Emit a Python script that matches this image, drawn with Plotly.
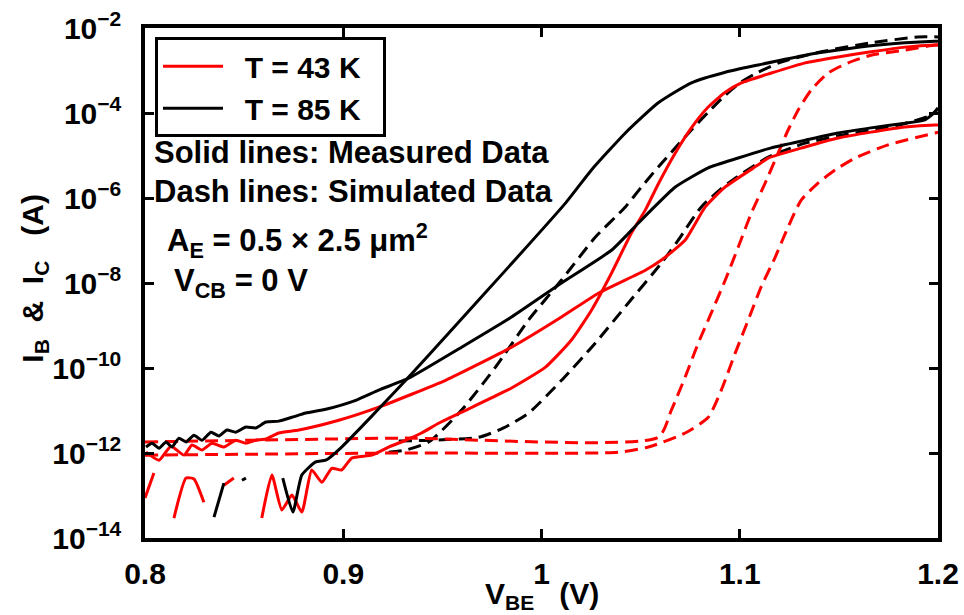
import plotly.graph_objects as go

# ---------------- data (V_BE in volts, currents as log10(I/A)) ----------------
# T = 85 K, measured collector current (gaps = unmeasurable noise floor)
v_ic85_meas = [0.8348, 0.8398, None, 0.8489, 0.8509, None, 0.8695, 0.8746, 0.8791, 0.8861,
               0.8912, 0.8992, 0.9315, 1.0121, 1.0252, 1.0423, 1.0589, 1.0756, 1.0927,
               1.1093, 1.1330, 1.1496, 1.1662, 1.1834, 1.1985, 1.2000]
log_ic85_meas = [-13.51, -12.71, None, -12.64, -12.59, None, -12.59, -13.39, -12.52, -12.21,
                 -12.17, -11.86, -10.29, -6.12, -5.34, -4.47, -3.76, -3.29, -3.04,
                 -2.87, -2.64, -2.52, -2.42, -2.35, -2.31, -2.31]

# T = 85 K, measured base current
v_ib85_meas = [0.8005, 0.8035, 0.8071, 0.8106, 0.8136, 0.8171, 0.8207, 0.8247, 0.8287, 0.8333,
               0.8373, 0.8413, 0.8458, 0.8509, 0.8559, 0.8610, 0.8675, 0.8741, 0.8811, 0.8912,
               0.9063, 0.9179, 0.9330, 0.9597, 0.9849, 1.0101, 1.0353, 1.0489, 1.0554, 1.0675,
               1.0841, 1.0992, 1.1159, 1.1330, 1.1496, 1.1662, 1.1834, 1.1934, 1.1985, 1.2000]
log_ib85_meas = [-11.86, -11.77, -11.89, -11.74, -11.86, -11.65, -11.74, -11.58, -11.70, -11.51,
                 -11.60, -11.46, -11.51, -11.39, -11.41, -11.27, -11.25, -11.16, -11.06, -10.97,
                 -10.76, -10.52, -10.24, -9.51, -8.80, -8.00, -7.23, -6.59, -6.28, -5.74,
                 -5.29, -5.06, -4.82, -4.64, -4.47, -4.35, -4.24, -4.16, -3.98, -3.88]

# T = 43 K, measured collector current
v_ic43_meas = [0.8000, 0.8045, None, 0.8146, 0.8207, 0.8247, 0.8297, None, 0.8398, 0.8448, None,
               0.8589, 0.8640, 0.8690, 0.8741, 0.8791, 0.8841, 0.8892, 0.8942, 0.8992, 0.9043,
               0.9144, 0.9229, 0.9315, 0.9395, 0.9481, 0.9597, 0.9849, 1.0020, 1.0151, 1.0252,
               1.0353, 1.0453, 1.0524, 1.0589, 1.0675, 1.0756, 1.0841, 1.0927, 1.1008, 1.1159,
               1.1330, 1.1496, 1.1662, 1.1834, 1.1985, 1.2000]
log_ic43_meas = [-13.06, -12.47, None, -13.53, -12.59, -12.61, -13.16, None, -12.76, -12.59, None,
                 -13.53, -12.52, -13.34, -12.99, -13.39, -12.40, -12.69, -12.36, -12.40, -12.12,
                 -12.05, -11.86, -11.70, -11.53, -11.30, -11.04, -10.47, -9.98, -9.34, -8.64,
                 -7.77, -6.83, -6.28, -5.67, -4.94, -4.35, -3.86, -3.51, -3.29, -3.06,
                 -2.82, -2.68, -2.56, -2.45, -2.40, -2.40]

# T = 43 K, measured base current
v_ib43_meas = [0.8005, 0.8071, 0.8131, 0.8197, 0.8237, 0.8287, 0.8338, 0.8398, 0.8458, 0.8509,
               0.8559, 0.8610, 0.8675, 0.8776, 0.8977, 0.9179, 0.9516, 0.9849, 1.0101, 1.0287,
               1.0524, 1.0605, 1.0725, 1.0826, 1.0927, 1.1093, 1.1144, 1.1330, 1.1496, 1.1662,
               1.1834, 1.1985, 1.2000]
log_ib43_meas = [-11.98, -12.17, -11.84, -12.05, -11.81, -11.93, -11.77, -11.86, -11.70, -11.77,
                 -11.70, -11.67, -11.53, -11.46, -11.23, -10.92, -10.29, -9.51, -8.80, -8.24,
                 -7.70, -7.46, -6.99, -6.21, -5.74, -5.22, -5.06, -4.80, -4.59, -4.45,
                 -4.33, -4.28, -4.28]

# T = 85 K, simulated collector current
v_ic85_sim = [0.9229, 0.9315, 0.9431, 0.9597, 0.9768, 0.9935, 1.0101, 1.0272, 1.0423, 1.0504,
              1.0589, 1.0675, 1.0756, 1.0841, 1.0927, 1.1008, 1.1093, 1.1209, 1.1411, 1.1662,
              1.1899, 1.2000]
log_ic85_sim = [-11.98, -11.93, -11.74, -10.99, -9.98, -8.87, -7.93, -6.92, -6.21, -5.74,
                -5.27, -4.82, -4.40, -3.98, -3.58, -3.27, -3.04, -2.80, -2.56, -2.35,
                -2.21, -2.21]

# T = 85 K, simulated base current
v_ib85_sim = [0.9280, 0.9431, 0.9683, 0.9809, 0.9935, 1.0101, 1.0272, 1.0438, 1.0605, 1.0690,
              1.0806, 1.0942, 1.1144, 1.1330, 1.1496, 1.1798, 1.1965, 1.2000]
log_ib85_sim = [-11.72, -11.70, -11.63, -11.41, -11.06, -10.29, -9.41, -8.47, -7.53, -6.99,
                -6.21, -5.65, -5.04, -4.71, -4.54, -4.29, -4.05, -3.89]

# T = 43 K, simulated collector current
v_ic43_sim = [0.8000, 0.9280, 1.0589, 1.0655, 1.0725, 1.0791, 1.0856, 1.0927, 1.0992, 1.1058,
              1.1128, 1.1194, 1.1244, 1.1295, 1.1360, 1.1446, 1.1547, 1.1662, 1.1834, 1.1985,
              1.2000]
log_ic43_sim = [-11.74, -11.65, -11.63, -10.99, -10.21, -9.41, -8.71, -7.93, -7.16, -6.36,
                -5.65, -4.94, -4.40, -3.93, -3.46, -3.06, -2.82, -2.64, -2.52, -2.40,
                -2.40]

# T = 43 K, simulated base current
v_ib43_sim = [0.8000, 0.9280, 1.0388, 1.0539, 1.0725, 1.0841, 1.0907, 1.0977, 1.1043, 1.1108,
              1.1179, 1.1244, 1.1310, 1.1395, 1.1481, 1.1582, 1.1748, 1.1985, 1.2000]
log_ib43_sim = [-12.05, -12.00, -11.98, -11.86, -11.53, -11.16, -10.52, -9.65, -8.87, -8.09,
                -7.39, -6.68, -6.05, -5.65, -5.34, -5.06, -4.75, -4.47, -4.45]

y_tick_exponents = [-2, -4, -6, -8, -10, -12, -14]
x_tick_values = [0.8, 0.9, 1.0, 1.1, 1.2]
x_tick_labels = ["0.8", "0.9", "1", "1.1", "1.2"]
legend_names = ["T = 43 K", "T = 85 K"]

RED = "#ff0000"
BLACK = "#000000"
FONT = "Liberation Sans, Arial, Helvetica, sans-serif"
NB = "\u00a0"


def amps(logs):
    return [None if v is None else 10 ** v for v in logs]


fig = go.Figure()

dash_pat = "13px,7px"
# simulated (dashed)
for vx, ly, col in [(v_ic85_sim, log_ic85_sim, BLACK), (v_ib85_sim, log_ib85_sim, BLACK),
                    (v_ic43_sim, log_ic43_sim, RED), (v_ib43_sim, log_ib43_sim, RED)]:
    fig.add_trace(go.Scatter(x=vx, y=amps(ly), mode="lines", showlegend=False,
                             line=dict(color=col, width=3, dash=dash_pat,
                                       shape="spline", smoothing=0.6)))

# measured (solid)
meas = [
    (v_ib43_meas, log_ib43_meas, RED, legend_names[0], True),
    (v_ic43_meas, log_ic43_meas, RED, None, False),
    (v_ib85_meas, log_ib85_meas, BLACK, legend_names[1], True),
    (v_ic85_meas, log_ic85_meas, BLACK, None, False),
]
for vx, ly, col, name, show in meas:
    label = (NB * 2 + name + NB * 2) if name else None
    fig.add_trace(go.Scatter(x=vx, y=amps(ly), mode="lines", name=label, showlegend=show,
                             connectgaps=False,
                             line=dict(color=col, width=3, shape="spline", smoothing=0.5)))

tick_font = dict(family=FONT, size=30, color="black", weight="bold")
axis_common = dict(showline=True, linecolor="black", linewidth=3.5, mirror="ticks",
                   ticks="inside", ticklen=9, tickwidth=2.5, tickcolor="black",
                   showgrid=False, zeroline=False, automargin=False, tickfont=tick_font)

fig.update_xaxes(range=[0.8, 1.2], tickvals=x_tick_values, ticktext=x_tick_labels,
                 ticklabelstandoff=6, **axis_common)
fig.update_yaxes(type="log", range=[-14, -2],
                 tickvals=[10 ** e for e in y_tick_exponents],
                 ticktext=["10<sup>\u2212%d</sup>" % (-e) for e in y_tick_exponents],
                 ticklabelstandoff=14, **axis_common)

ann_font = dict(family=FONT, size=31, color="black", weight="bold")
notes = [
    ("Solid lines: Measured Data", 0.0088, 0.755),
    ("Dash lines: Simulated Data", 0.0088, 0.680),
    ("A<sub>E</sub> = 0.5 \u00d7 2.5 \u03bcm<sup>2</sup>", 0.025, 0.584),
    ("V<sub>CB</sub> = 0 V", 0.034, 0.50),
]
for txt, xx, yy in notes:
    fig.add_annotation(text=txt, x=xx, y=yy, xref="paper", yref="paper",
                       xanchor="left", yanchor="middle", showarrow=False, font=ann_font)

title_font = dict(family=FONT, size=30, color="black", weight="bold")
# axis titles
fig.add_annotation(text="V<sub>BE</sub>   (V)", x=0.5, y=-0.072, xref="paper", yref="paper",
                   xanchor="center", yanchor="top", showarrow=False, font=title_font)
fig.add_annotation(text="I<sub>B</sub>  &  I<sub>C</sub>   (A)", x=-0.139, y=0.51,
                   xref="paper", yref="paper", xanchor="center", yanchor="middle",
                   textangle=-90, showarrow=False, font=title_font)

fig.update_layout(
    width=964, height=615,
    margin=dict(l=145, r=26, t=28, b=77),
    paper_bgcolor="white", plot_bgcolor="white",
    font=dict(family=FONT, size=30, color="black", weight="bold"),
    legend=dict(x=0.0126, y=0.982, xanchor="left", yanchor="top",
                bgcolor="white", bordercolor="black", borderwidth=3, tracegroupgap=0,
                itemwidth=60,
                font=dict(family=FONT, size=30, color="black", weight="bold")),
)

fig.write_html("out.html", config={"displayModeBar": False},
               post_script="document.body.style.margin='0px';"
                           "document.body.style.overflow='hidden';")
